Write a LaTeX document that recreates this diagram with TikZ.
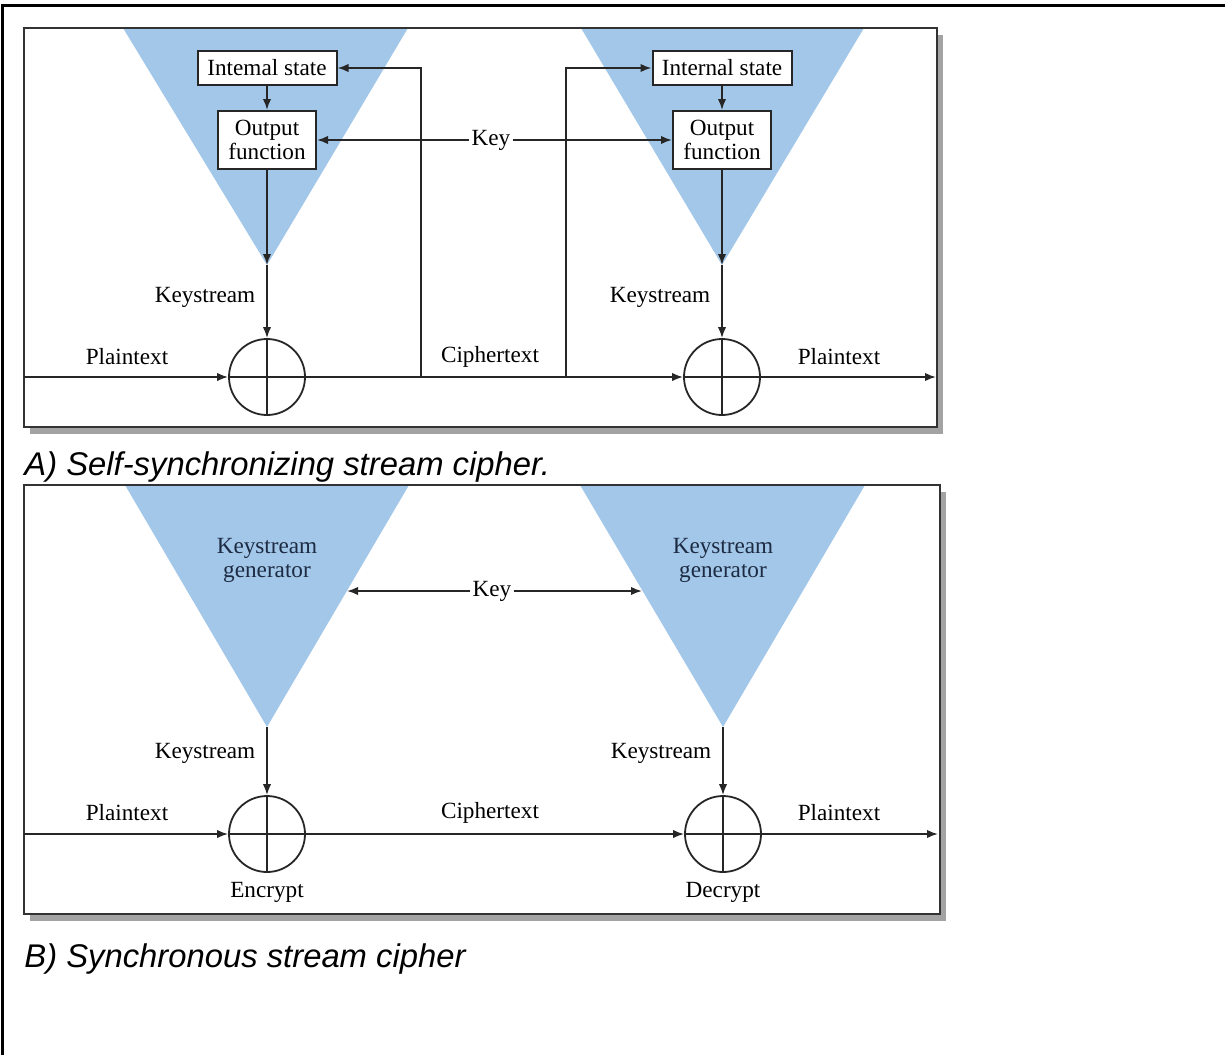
\documentclass[tikz,border=0pt]{standalone}
\usepackage{fontspec}
\setmainfont{Liberation Serif}
\newfontfamily\capfont{Liberation Sans}
\usetikzlibrary{arrows.meta,shadows}
\definecolor{genblue}{RGB}{163,199,233}
\definecolor{gennavy}{RGB}{28,42,66}

\begin{document}
\begin{tikzpicture}[x=0.5pt,y=-0.5pt,
	wire/.style={draw=black!85,line width=0.9pt},
	arr/.style={wire,-{Latex[length=5.5pt,width=4.2pt]}},
	panel/.style={draw=black!80,line width=1.1pt,fill=white,drop shadow={shadow xshift=3pt,shadow yshift=-3.5pt,opacity=0.6,fill=black!60}},
	rim/.style={draw=black!80,line width=1.1pt},
	gen/.style={fill=genblue},
	lbl/.style={inner sep=1pt,font=\fontsize{11.6}{12}\selectfont},
	gentext/.style={lbl,align=center,text=gennavy},
	statebox/.style={lbl,draw=black!85,line width=1pt,fill=white,minimum width=69.5pt,minimum height=17pt},
	funcbox/.style={lbl,draw=black!85,line width=1pt,fill=white,align=center,minimum width=49pt,minimum height=29pt},
	xorgate/.style={circle,draw=black!85,line width=0.9pt,minimum size=38pt,inner sep=0pt},
	caption/.style={anchor=base west,inner sep=0pt,font=\capfont\itshape\fontsize{16.4}{19}\selectfont}]

	\useasboundingbox (0,0) rectangle (1225,1055);
	\draw[line width=1.5pt] (2,1055) -- (2,5) -- (1225,5);

	% A) self-synchronizing
	\path[panel] (24,28) rectangle (937,427);
	\fill[gen] (123,28) -- (408,28) -- (267,265) -- cycle;
	\fill[gen] (581,28) -- (864,28) -- (722,265) -- cycle;
	\draw[rim] (24,28) rectangle (937,427);

	\node[statebox] (stateL) at (267,68) {Intemal state};
	\node[funcbox] (outL) at (267,140) {Output\\function};
	\node[statebox] (stateR) at (722,68) {Internal state};
	\node[funcbox] (outR) at (722,140) {Output\\function};
	\coordinate (apexL) at (267,265);
	\coordinate (apexR) at (722,265);
	\node[xorgate] (xorL) at (267,377) {};
	\node[xorgate] (xorR) at (722,377) {};
	\coordinate (inA) at (24,377);
	\coordinate (endA) at (936,377);
	\coordinate (fbL) at (421,377);
	\coordinate (fbR) at (566,377);

	\node[lbl] (key) at (491,140) {Key};
	\node[lbl] (ksL) at (205,297) {Keystream};
	\node[lbl] (ksR) at (660,297) {Keystream};
	\node[lbl] (ptL) at (127,357) {Plaintext};
	\node[lbl] (ct) at (490,357) {Ciphertext};
	\node[lbl] (ptR) at (839,357) {Plaintext};

	\draw[arr] (stateL) -- (outL);
	\draw[arr] (stateR) -- (outR);
	\draw[arr] (outL) -- (apexL);
	\draw[arr] (outR) -- (apexR);
	\draw[arr] (apexL) -- (xorL.north);
	\draw[arr] (apexR) -- (xorR.north);
	\draw[arr] (key) -- (outL);
	\draw[arr] (key) -- (outR);
	\draw[arr] (inA) -- (xorL.west);
	\draw[arr] (xorL.east) -- (xorR.west);
	\draw[arr] (xorR.east) -- (endA);
	\draw[arr] (fbL) |- (stateL);
	\draw[arr] (fbR) |- (stateR);
	\draw[wire] (xorL.north) -- (xorL.south) (xorL.west) -- (xorL.east);
	\draw[wire] (xorR.north) -- (xorR.south) (xorR.west) -- (xorR.east);

	\node[caption] (capA) at (24,475) {A) Self-synchronizing stream cipher.};

	% B) synchronous
	\path[panel] (24,485) rectangle (940,914);
	\fill[gen] (125,485) -- (409,485) -- (267,727) -- cycle;
	\fill[gen] (580,485) -- (865,485) -- (723,727) -- cycle;
	\draw[rim] (24,485) rectangle (940,914);

	\node[gentext] (genL) at (267,560) {Keystream\\generator};
	\node[gentext] (genR) at (723,560) {Keystream\\generator};
	\coordinate (kinL) at (347,591);
	\coordinate (kinR) at (642,591);
	\coordinate (apexBL) at (267,727);
	\coordinate (apexBR) at (723,727);
	\node[xorgate] (xorBL) at (267,834) {};
	\node[xorgate] (xorBR) at (723,834) {};
	\coordinate (inB) at (24,834);
	\coordinate (endB) at (938,834);

	\node[lbl] (keyB) at (492,591) {Key};
	\node[lbl] (ksBL) at (205,753) {Keystream};
	\node[lbl] (ksBR) at (661,753) {Keystream};
	\node[lbl] (ptBL) at (127,813) {Plaintext};
	\node[lbl] (ctB) at (490,813) {Ciphertext};
	\node[lbl] (ptBR) at (839,813) {Plaintext};
	\node[lbl] (enc) at (267,892) {Encrypt};
	\node[lbl] (dec) at (723,892) {Decrypt};

	\draw[arr] (keyB) -- (kinL);
	\draw[arr] (keyB) -- (kinR);
	\draw[arr] (apexBL) -- (xorBL.north);
	\draw[arr] (apexBR) -- (xorBR.north);
	\draw[arr] (inB) -- (xorBL.west);
	\draw[arr] (xorBL.east) -- (xorBR.west);
	\draw[arr] (xorBR.east) -- (endB);
	\draw[wire] (xorBL.north) -- (xorBL.south) (xorBL.west) -- (xorBL.east);
	\draw[wire] (xorBR.north) -- (xorBR.south) (xorBR.west) -- (xorBR.east);

	\node[caption] (capB) at (24,967) {B) Synchronous stream cipher};
\end{tikzpicture}
\end{document}
